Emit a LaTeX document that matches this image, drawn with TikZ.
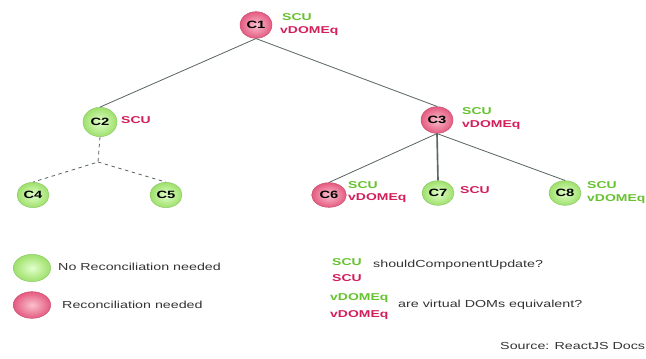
\documentclass[tikz,border=0pt]{standalone}
\usepackage{fontspec}
\setmainfont{Liberation Sans}
\newfontfamily\widesans[FakeStretch=1.4]{Liberation Sans}
\usepackage{tikz}
\usetikzlibrary{shapes.geometric,positioning}
\definecolor{okin}{HTML}{E2FFCC}
\definecolor{okout}{HTML}{9EE06A}
\definecolor{okline}{HTML}{8CC86A}
\definecolor{rein}{HTML}{FAC0CE}
\definecolor{reout}{HTML}{E45A80}
\definecolor{reline}{HTML}{C85070}
\definecolor{tagok}{HTML}{66C22E}
\definecolor{tagre}{HTML}{D21F5A}
\definecolor{edge}{HTML}{5A6660}
\definecolor{ink}{HTML}{333333}
\tikzset{
  comp/.style={ellipse, minimum width=0.96cm, minimum height=0.8cm, inner sep=0pt,
    font=\widesans\bfseries\fontsize{9}{10}\selectfont},
  okcomp/.style={comp, inner color=okin, outer color=okout, draw=okline},
  recomp/.style={comp, inner color=rein, outer color=reout, draw=reline},
  tag/.style={anchor=west, inner sep=0pt, font=\widesans\bfseries\fontsize{8.5}{10}\selectfont},
  note/.style={anchor=west, inner sep=0pt, text=ink, font=\widesans\fontsize{8.7}{10}\selectfont},
  link/.style={edge, line width=0.7pt}
}

\begin{document}
\begin{tikzpicture}[x=0.03cm, y=-0.03cm]
\useasboundingbox (0,0) rectangle (646,358);
% ---------- tree
\node[recomp] (C1) at (256,25) {C1};
\node[okcomp, minimum width=1.02cm, minimum height=0.88cm] (C2) at (100,122) {C2};
\node[recomp] (C3) at (437,120) {C3};
\node[okcomp, minimum height=0.76cm] (C4) at (33,195) {C4};
\node[okcomp, minimum height=0.76cm] (C5) at (166,195) {C5};
\node[recomp, minimum width=1.04cm, minimum height=0.74cm] (C6) at (329,195) {C6};
\node[okcomp, minimum height=0.74cm] (C7) at (438,193) {C7};
\node[okcomp, minimum height=0.74cm] (C8) at (565,193) {C8};
\coordinate (split) at (98,162);

\draw[link] (C1.south) -- (C2.north);
\draw[link] (C1.south) -- (C3.north);
\draw[link, dashed] (C2.south) -- (split) -- (C4.north);
\draw[link, dashed] (split) -- (C5.north);
\draw[link] (C3.south) -- (C6.north);
\draw[link, line width=1.4pt] (C3.south) -- (C7.north);
\draw[link] (C3.south) -- (C8.north);

% ---------- checks next to each component
\node[tag, tagok] (C1scu) at (282,17) {SCU};
\node[tag, tagre] (C1eq)  at (280,31) {vDOMEq};
\node[tag, tagre] (C2scu) at (121,120) {SCU};
\node[tag, tagok] (C3scu) at (462,111) {SCU};
\node[tag, tagre] (C3eq)  at (462,125) {vDOMEq};
\node[tag, tagok] (C6scu) at (348,185) {SCU};
\node[tag, tagre] (C6eq)  at (348,198) {vDOMEq};
\node[tag, tagre] (C7scu) at (460,190) {SCU};
\node[tag, tagok] (C8scu) at (587,185) {SCU};
\node[tag, tagok] (C8eq)  at (587,199) {vDOMEq};

% ---------- legend
\node[okcomp, minimum width=1.12cm, minimum height=0.82cm] (keyok) at (32,268) {};
\node[note] (keyoktext) at (58,267) {No Reconciliation needed};
\node[recomp, minimum width=1.12cm, minimum height=0.8cm] (keyre) at (32,305) {};
\node[note] (keyretext) at (62,305) {Reconciliation needed};

\node[tag, tagok] (keyscuok) at (332,262) {SCU};
\node[tag, tagre] (keyscure) at (332,278) {SCU};
\node[note] (keyscutext) at (373,265) {shouldComponentUpdate?};
\node[tag, tagok] (keyeqok) at (330,298) {vDOMEq};
\node[tag, tagre] (keyeqre) at (330,315) {vDOMEq};
\node[note] (keyeqtext) at (398,305) {are virtual DOMs equivalent?};

\node[note] (source) at (500,346) {Source: ReactJS Docs};
\end{tikzpicture}
\end{document}
